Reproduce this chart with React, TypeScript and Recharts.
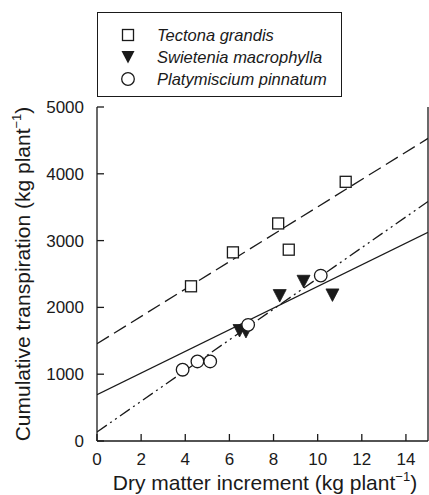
import React from 'react';
import { ComposedChart, XAxis, YAxis, Line, Scatter } from 'recharts';

// Observed data points
const tectonaX = [4.26, 6.16, 8.21, 8.69, 11.27];
const tectonaY = [2316, 2824, 3257, 2864, 3880];
const swieteniaX = [6.46, 6.75, 8.28, 9.36, 10.67];
const swieteniaY = [1654, 1640, 2177, 2391, 2187];
const platyX = [3.88, 4.55, 5.13, 6.85, 10.14];
const platyY = [1067, 1191, 1191, 1739, 2476];

// Regression fits (intercept, slope)
const fitIntercepts = [1455, 693, 135];
const fitSlopes = [205, 162, 230];

const xTicks = [0, 2, 4, 6, 8, 10, 12, 14];
const yTicks = [0, 1000, 2000, 3000, 4000, 5000];
const xDomain = [0, 15];
const yDomain = [0, 5000];

const legendNames = ['Tectona grandis', 'Swietenia macrophylla', 'Platymiscium pinnatum'];

const toPoints = (xs: number[], ys: number[]) => xs.map((x, i) => ({ x, y: ys[i] }));
const fitLine = (k: number) =>
  xDomain.map((x) => ({ x, y: fitIntercepts[k] + fitSlopes[k] * x }));

const INK = '#1a1a1a';
const FONT = '"Liberation Sans", Arial, Helvetica, sans-serif';

const SquareShape = (p: any) => (
  <rect x={p.cx - 5.5} y={p.cy - 5.5} width={11} height={11} fill="#fff" stroke={INK} strokeWidth={1.3} />
);
const TriangleShape = (p: any) => (
  <path d={`M${p.cx - 6.5},${p.cy - 6} L${p.cx + 6.5},${p.cy - 6} L${p.cx},${p.cy + 6.5} Z`} fill={INK} stroke={INK} strokeWidth={0.8} />
);
const CircleShape = (p: any) => (
  <circle cx={p.cx} cy={p.cy} r={6.3} fill="#fff" stroke={INK} strokeWidth={1.3} />
);

const LegendIcon = ({ k }: { k: number }) => (
  <svg width={16} height={16} style={{ display: 'block' }}>
    {k === 0 && <rect x={2.5} y={2.5} width={11} height={11} fill="#fff" stroke={INK} strokeWidth={1.3} />}
    {k === 1 && <path d="M1.5,2 L14.5,2 L8,14.5 Z" fill={INK} />}
    {k === 2 && <circle cx={8} cy={8} r={6.3} fill="#fff" stroke={INK} strokeWidth={1.3} />}
  </svg>
);

export default function App() {
  const tickStyle = { fill: INK, fontSize: 17, fontFamily: FONT };
  return (
    <div style={{ position: 'absolute', left: 0, top: 0, width: 429, height: 495, background: '#fff', overflow: 'hidden' }}>
      <ComposedChart
        width={429}
        height={495}
        margin={{ top: 107, right: 0, bottom: 0, left: 0 }}
      >
        <XAxis
          xAxisId="b"
          dataKey="x"
          type="number"
          domain={xDomain}
          ticks={xTicks}
          allowDataOverflow
          height={54}
          tickSize={-7}
          tickMargin={19}
          tick={tickStyle}
          axisLine={{ stroke: INK, strokeWidth: 1.3 }}
          tickLine={{ stroke: INK, strokeWidth: 1.3 }}
        />
        <XAxis
          xAxisId="t"
          orientation="top"
          dataKey="x"
          type="number"
          domain={xDomain}
          ticks={xTicks}
          allowDataOverflow
          height={0}
          tickSize={-7}
          tick={false}
          axisLine={{ stroke: INK, strokeWidth: 1.3 }}
          tickLine={{ stroke: INK, strokeWidth: 1.3 }}
        />
        <YAxis
          yAxisId="l"
          type="number"
          domain={yDomain}
          ticks={yTicks}
          allowDataOverflow
          width={97}
          tickSize={-7}
          tickMargin={20}
          tick={tickStyle}
          axisLine={{ stroke: INK, strokeWidth: 1.3 }}
          tickLine={{ stroke: INK, strokeWidth: 1.3 }}
        />
        <YAxis
          yAxisId="r"
          orientation="right"
          type="number"
          domain={yDomain}
          ticks={yTicks}
          allowDataOverflow
          width={1}
          tickSize={-7}
          tick={false}
          axisLine={{ stroke: INK, strokeWidth: 1.3 }}
          tickLine={{ stroke: INK, strokeWidth: 1.3 }}
        />
        <Line xAxisId="b" yAxisId="l" data={fitLine(0)} dataKey="y" stroke={INK} strokeWidth={1.3} strokeDasharray="14 6" dot={false} isAnimationActive={false} />
        <Line xAxisId="b" yAxisId="l" data={fitLine(1)} dataKey="y" stroke={INK} strokeWidth={1.3} dot={false} isAnimationActive={false} />
        <Line xAxisId="b" yAxisId="l" data={fitLine(2)} dataKey="y" stroke={INK} strokeWidth={1.3} strokeDasharray="12 4 2 4 2 4" dot={false} isAnimationActive={false} />
        <Scatter xAxisId="b" yAxisId="l" data={toPoints(tectonaX, tectonaY)} dataKey="y" shape={SquareShape} isAnimationActive={false} />
        <Scatter xAxisId="b" yAxisId="l" data={toPoints(swieteniaX, swieteniaY)} dataKey="y" shape={TriangleShape} isAnimationActive={false} />
        <Scatter xAxisId="b" yAxisId="l" data={toPoints(platyX, platyY)} dataKey="y" shape={CircleShape} isAnimationActive={false} />
      </ComposedChart>

      <svg width={429} height={495} style={{ position: 'absolute', left: 0, top: 0, pointerEvents: 'none' }}>
        <text x={265} y={490} textAnchor="middle" fontSize={21} fontFamily={FONT} fill={INK}>
          Dry matter increment (kg plant
          <tspan fontSize={13} dy={-9}>−1</tspan>
          <tspan dy={9}>)</tspan>
        </text>
        <text x={30} y={274} transform="rotate(-90 30 274)" textAnchor="middle" fontSize={21} fontFamily={FONT} fill={INK}>
          Cumulative transpiration (kg plant
          <tspan fontSize={13} dy={-9}>−1</tspan>
          <tspan dy={9}>)</tspan>
        </text>
      </svg>

      <div
        style={{
          position: 'absolute',
          left: 97,
          top: 12,
          width: 245,
          height: 85,
          boxSizing: 'border-box',
          border: `1.3px solid ${INK}`,
          background: '#fff',
        }}
      >
        {legendNames.map((name, k) => (
          <div
            key={name}
            style={{ position: 'absolute', left: 22, top: 12 + k * 22, height: 20, display: 'flex', alignItems: 'center' }}
          >
            <LegendIcon k={k} />
            <span style={{ marginLeft: 21, fontFamily: FONT, fontStyle: 'italic', fontSize: 16.5, color: INK, lineHeight: '20px', whiteSpace: 'nowrap' }}>
              {name}
            </span>
          </div>
        ))}
      </div>
    </div>
  );
}
